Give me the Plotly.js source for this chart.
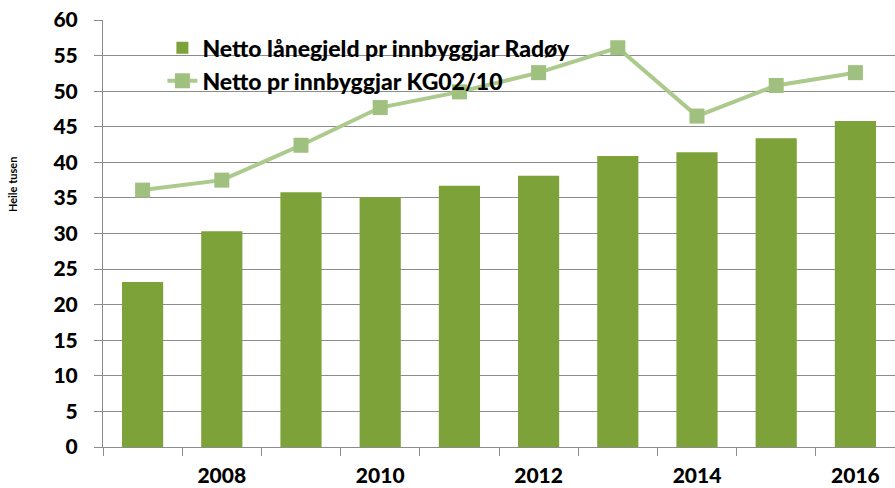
<!DOCTYPE html>
<html><head><meta charset="utf-8">
<script src="https://cdn.plot.ly/plotly-3.0.1.min.js"></script>
<style>html,body{margin:0;padding:0;background:#fff}#chart{width:895px;height:488px}</style>
</head><body><div id="chart"></div>
<script>
const years = [2007, 2008, 2009, 2010, 2011, 2012, 2013, 2014, 2015, 2016];
const radoy = [23.2, 30.3, 35.8, 35.1, 36.7, 38.1, 40.9, 41.4, 43.4, 45.8];
const kg0210 = [36.1, 37.5, 42.4, 47.7, 49.9, 52.6, 56.1, 46.5, 50.8, 52.6];
const labelYears = [2008, 2010, 2012, 2014, 2016];
const yTicks = [0, 5, 10, 15, 20, 25, 30, 35, 40, 45, 50, 55, 60];
const barName = 'Netto lånegjeld pr innbyggjar Radøy';
const lineName = 'Netto pr innbyggjar KG02/10';
const yTitle = 'Heile tusen';

const font = 'Lato, "Open Sans", sans-serif';
const traces = [
  {type: 'bar', x: years, y: radoy, name: barName, width: 0.52,
   marker: {color: '#7ea23a', line: {width: 0}}},
  {type: 'scatter', mode: 'lines+markers', x: years, y: kg0210, name: lineName,
   line: {color: '#abca8c', width: 4},
   marker: {symbol: 'square', size: 15, color: '#9fc07f'}}
];
const layout = {
  width: 895, height: 488,
  margin: {l: 103, r: 0, t: 20, b: 41},
  paper_bgcolor: '#fff', plot_bgcolor: '#fff',
  font: {family: font, color: '#000'},
  showlegend: true,
  legend: {x: 0.075, y: 0.985, xanchor: 'left', yanchor: 'top', bgcolor: 'rgba(0,0,0,0)',
           font: {size: 23, family: font, weight: 900}, tracegroupgap: 0, traceorder: 'normal'},
  xaxis: {range: [2006.5, 2016.5], tickvals: labelYears, ticktext: labelYears.map(String),
          ticks: '', ticklabelstandoff: 10, showgrid: false, zeroline: false, showline: true, linecolor: '#8c8c8c',
          tickfont: {size: 21, family: font, weight: 900},
          minor: {tick0: 2006.5, dtick: 1, ticks: 'outside', ticklen: 8, tickcolor: '#8c8c8c', showgrid: false}},
  yaxis: {range: [0, 60], tickvals: yTicks, ticks: 'outside', ticklen: 8, tickcolor: '#8c8c8c',
          showgrid: true, gridcolor: '#8c8c8c', gridwidth: 1, zeroline: false,
          showline: true, linecolor: '#8c8c8c', ticklabelstandoff: 12,
          tickfont: {size: 21, family: font, weight: 900}},
  annotations: [{text: yTitle, xref: 'paper', yref: 'paper', x: -0.124, y: 0.614,
                 textangle: -90, showarrow: false, font: {size: 11, family: font, weight: 'bold'}}]
};
Plotly.newPlot('chart', traces, layout, {displayModeBar: false, staticPlot: true});
</script></body></html>
